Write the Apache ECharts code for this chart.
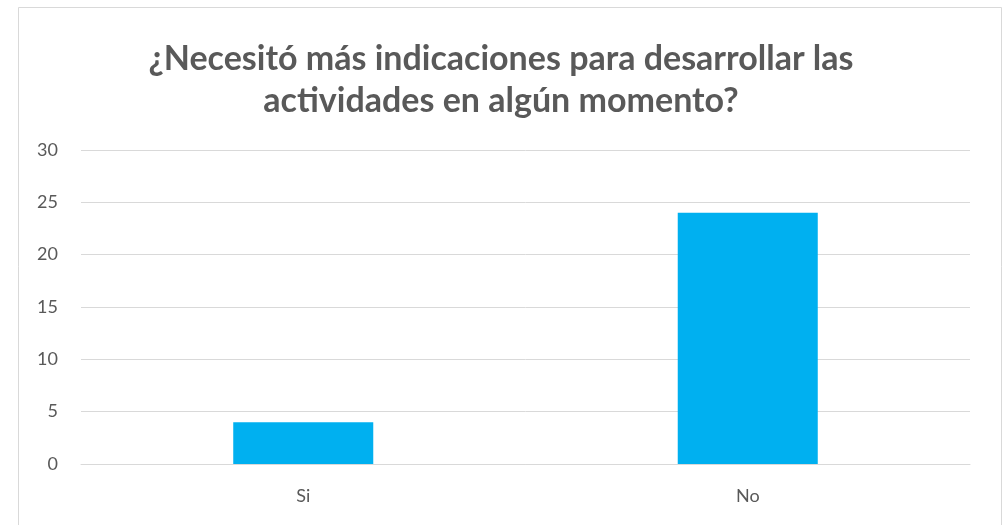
<!DOCTYPE html>
<html>
<head>
<meta charset="utf-8">
<script src="https://cdn.jsdelivr.net/npm/echarts@6/dist/echarts.min.js"></script>
<style>html,body{margin:0;padding:0;background:#fff}#c{width:1002px;height:525px}</style>
</head>
<body>
<div id="c"></div>
<script>
const titleText = "¿Necesitó más indicaciones para desarrollar las\nactividades en algún momento?";
const categories = ["Si", "No"];
const values = [4, 24];
const yTicks = { min: 0, max: 30, interval: 5 };

const chart = echarts.init(document.getElementById('c'), null, { renderer: 'canvas' });
chart.setOption({
  animation: false,
  backgroundColor: '#fff',
  graphic: [{
    type: 'rect', left: 16, top: 5,
    shape: { width: 983, height: 530 },
    style: { fill: 'none', stroke: '#d9d9d9', lineWidth: 1 },
    silent: true, z: -1
  }],
  title: {
    text: titleText, left: 'center', top: 33,
    textStyle: { fontFamily: 'Lato', fontWeight: 'bold', fontSize: 34, color: '#595959', lineHeight: 42 }
  },
  grid: { left: 81, right: 32, top: 150, bottom: 61, containLabel: false },
  xAxis: {
    type: 'category', data: categories,
    axisLine: { lineStyle: { color: '#d9d9d9', width: 1 } },
    axisTick: { show: false },
    axisLabel: { color: '#595959', fontSize: 18, fontFamily: 'Lato', margin: 23 }
  },
  yAxis: {
    type: 'value', min: yTicks.min, max: yTicks.max, interval: yTicks.interval,
    axisLine: { show: false }, axisTick: { show: false },
    splitLine: { lineStyle: { color: '#d9d9d9', width: 1 } },
    axisLabel: { color: '#595959', fontSize: 18, fontFamily: 'Lato', margin: 23 }
  },
  series: [{
    type: 'bar', data: values, barWidth: '31.5%',
    itemStyle: { color: '#00b0f0' }
  }]
});
</script>
</body>
</html>
